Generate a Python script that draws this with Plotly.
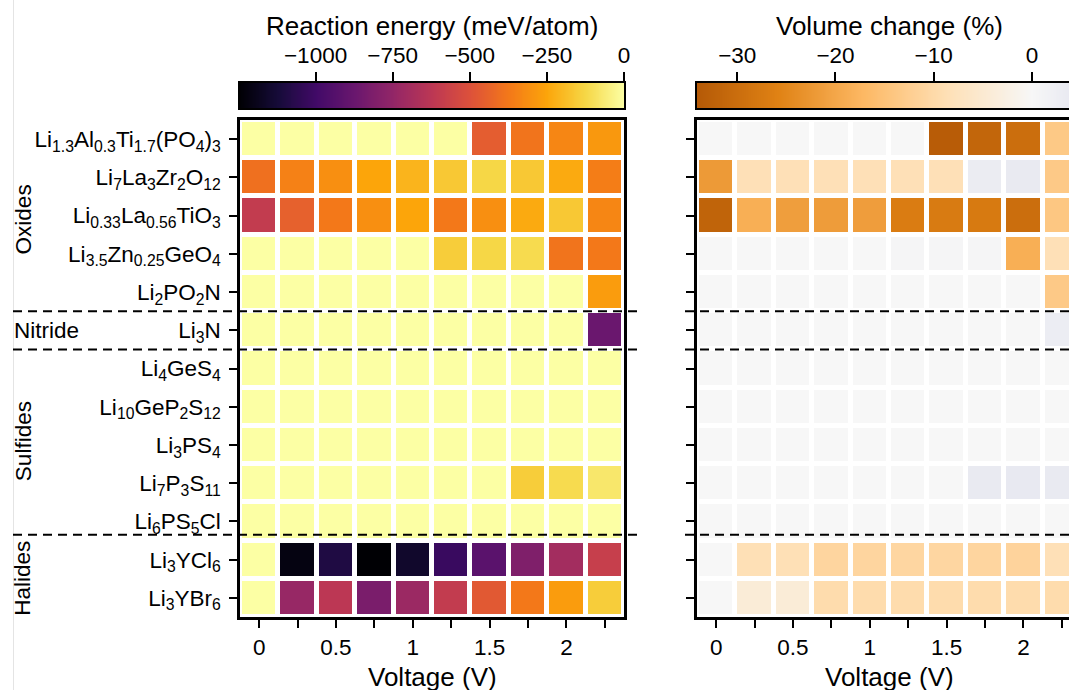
import numpy as np
import plotly.graph_objects as go

# ---------------- data ----------------
voltages = [0, 0.25, 0.5, 0.75, 1.0, 1.25, 1.5, 1.75, 2.0, 2.25]
voltage_labels = [0, 0.5, 1.0, 1.5, 2.0]

materials = [
    "Li<sub>1.3</sub>Al<sub>0.3</sub>Ti<sub>1.7</sub>(PO<sub>4</sub>)<sub>3</sub>",
    "Li<sub>7</sub>La<sub>3</sub>Zr<sub>2</sub>O<sub>12</sub>",
    "Li<sub>0.33</sub>La<sub>0.56</sub>TiO<sub>3</sub>",
    "Li<sub>3.5</sub>Zn<sub>0.25</sub>GeO<sub>4</sub>",
    "Li<sub>2</sub>PO<sub>2</sub>N",
    "Li<sub>3</sub>N",
    "Li<sub>4</sub>GeS<sub>4</sub>",
    "Li<sub>10</sub>GeP<sub>2</sub>S<sub>12</sub>",
    "Li<sub>3</sub>PS<sub>4</sub>",
    "Li<sub>7</sub>P<sub>3</sub>S<sub>11</sub>",
    "Li<sub>6</sub>PS<sub>5</sub>Cl",
    "Li<sub>3</sub>YCl<sub>6</sub>",
    "Li<sub>3</sub>YBr<sub>6</sub>",
]

# reaction energy (meV/atom), rows = materials, cols = voltages
e_LATP = [0, 0, 0, 0, 0, 0, -460, -386, -336, -286]
e_LLZO = [-398, -349, -311, -249, -212, -162, -125, -162, -237, -361]
e_LLTO = [-598, -448, -374, -311, -249, -374, -311, -237, -162, -336]
e_LZGO = [0, 0, 0, 0, 0, -150, -125, -112, -386, -374]
e_LiPON = [0, 0, 0, 0, 0, 0, 0, 0, 0, -274]
e_Li3N = [0, 0, 0, 0, 0, 0, 0, 0, 0, -871]
e_Li4GeS4 = [0, 0, 0, 0, 0, 0, 0, 0, 0, 0]
e_LGPS = [0, 0, 0, 0, 0, 0, 0, 0, 0, 0]
e_Li3PS4 = [0, 0, 0, 0, 0, 0, 0, 0, 0, 0]
e_LPS = [0, 0, 0, 0, 0, 0, 0, -150, -112, -75]
e_LPSCl = [0, 0, 0, 0, 0, 0, 0, 0, 0, 0]
e_LYC = [0, -1215, -1095, -1245, -1150, -1021, -921, -809, -697, -585]
e_LYB = [0, -735, -622, -822, -722, -598, -473, -374, -274, -150]

# volume change (%)
v_LATP = [0, 0, 0, 0, 0, 0, -33.5, -31.5, -29.8, -13.6]
v_LLZO = [-22, -8.5, -8.5, -8.5, -8.5, -8.5, -8.5, 3.4, 4.0, -13.5]
v_LLTO = [-32, -18.7, -21.3, -21.7, -21.5, -27, -27.3, -27.5, -29.8, -14]
v_LZGO = [0, 0, 0, 0, 0, 0.6, 0.6, 0.6, -18.7, -8.5]
v_LiPON = [0, 0, 0, 0, 0, 0, 0, 0, 0, -13.5]
v_Li3N = [0, 0, 0, 0, 0, 0, 0, 0, 0, 3]
v_Li4GeS4 = [0, 0, 0, 0, 0, 0, 0, 0, 0, 0]
v_LGPS = [0, 0, 0, 0, 0, 0, 0, 0, 0, 0]
v_Li3PS4 = [0, 0, 0, 0, 0, 0, 0, 0, 0, 0]
v_LPS = [0, 0, 0, 0, 0, 0, 0, 4, 4.2, 4]
v_LPSCl = [0, 0, 0, 0, 0, 0, 0, 0, 0, 0]
v_LYC = [0, -8.6, -8.6, -11, -11, -10.8, -10.8, -11, -11.3, -8.5]
v_LYB = [0, -4.2, -4.2, -9.5, -9.5, -9.5, -9.5, -9.5, -9.5, -9.5]

groups = ["Oxides", "Nitride", "Sulfides", "Halides"]
group_centers = [2.1, 5, 7.9, 11.5]
separators = [4.5, 5.5, 10.35]

energy_ticks = [-1000, -750, -500, -250, 0]
volume_ticks = [-30, -20, -10, 0]
energy_range = [-1245, 0]
volume_range = [-34.1, 5.0]
volume_norm = 43.0  # symmetric diverging norm half-width

energy = [e_LATP, e_LLZO, e_LLTO, e_LZGO, e_LiPON, e_Li3N, e_Li4GeS4, e_LGPS,
          e_Li3PS4, e_LPS, e_LPSCl, e_LYC, e_LYB]
volume = [v_LATP, v_LLZO, v_LLTO, v_LZGO, v_LiPON, v_Li3N, v_Li4GeS4, v_LGPS,
          v_Li3PS4, v_LPS, v_LPSCl, v_LYC, v_LYB]

# ---------------- styles ----------------
inferno = [[0.0, "#000004"], [0.1, "#160b39"], [0.2, "#420a68"], [0.3, "#6a176e"],
           [0.4, "#932667"], [0.5, "#bc3754"], [0.6, "#dd513a"], [0.7, "#f37819"],
           [0.8, "#fca50a"], [0.9, "#f6d746"], [1.0, "#fcffa4"]]
puor = [[0.0, "#7f3b08"], [0.1, "#b35806"], [0.2, "#e08214"], [0.3, "#fdb863"],
        [0.4, "#fee0b6"], [0.5, "#f7f7f7"], [0.6, "#d8daeb"], [0.7, "#b2abd2"],
        [0.8, "#8073ac"], [0.9, "#542788"], [1.0, "#2d004b"]]

W, H = 1069, 690
FONT = "Liberation Sans, Arial, sans-serif"
TICK = 22.5
TITLE = 26


def fx(p):
    return p / W


def fy(p):
    return 1 - p / H


L0, L1 = 240, 624          # left heatmap x pixels
R0, R1 = 697, 1081         # right heatmap x pixels (cut at figure edge)
T0, T1 = 120, 617          # heatmap y pixels
C0, C1 = 82.5, 108         # colorbar y pixels

xr = [-0.125, 2.375]
vis = (W - R0) / (R1 - R0)
xr_right = [xr[0], xr[0] + (xr[1] - xr[0]) * vis]
vr_right = [volume_range[0], volume_range[0] + (volume_range[1] - volume_range[0]) * vis]

fig = go.Figure()

fig.add_trace(go.Heatmap(z=energy, x=voltages, y=materials, colorscale=inferno,
                         zmin=energy_range[0], zmax=energy_range[1], xgap=5, ygap=5,
                         showscale=False, hoverinfo="skip", xaxis="x", yaxis="y"))
fig.add_trace(go.Heatmap(z=volume, x=voltages, y=materials, colorscale=puor,
                         zmin=-volume_norm, zmax=volume_norm, xgap=5, ygap=5,
                         showscale=False, hoverinfo="skip", xaxis="x2", yaxis="y2"))

# colour bars drawn as gradient strips on their own axes
eg = np.linspace(energy_range[0], energy_range[1], 400)
fig.add_trace(go.Heatmap(z=[eg], x=eg, y=[0], colorscale=inferno,
                         zmin=energy_range[0], zmax=energy_range[1],
                         showscale=False, hoverinfo="skip", xaxis="x3", yaxis="y3"))
vg = np.linspace(volume_range[0], volume_range[1], 400)
fig.add_trace(go.Heatmap(z=[vg], x=vg, y=[0], colorscale=puor,
                         zmin=-volume_norm, zmax=volume_norm,
                         showscale=False, hoverinfo="skip", xaxis="x4", yaxis="y4"))

tickfont = dict(family=FONT, size=TICK, color="black")
ax_common = dict(showline=True, linecolor="black", linewidth=2.5, ticks="outside",
                 ticklen=8, tickwidth=2, tickcolor="black", showgrid=False,
                 zeroline=False, tickfont=tickfont)
minor_v = dict(tickvals=voltages, ticks="outside", ticklen=8, tickwidth=2,
               tickcolor="black", showgrid=False)

fig.update_layout(
    width=W, height=H, paper_bgcolor="white", plot_bgcolor="white",
    margin=dict(l=0, r=0, t=0, b=0, autoexpand=False),
    showlegend=False,
    font=dict(family=FONT, size=TICK, color="black"),
    xaxis=dict(domain=[fx(L0), fx(L1)], anchor="y", range=xr, mirror=True,
               tickvals=voltage_labels, ticklabelstandoff=0, minor=minor_v,
               **ax_common),
    yaxis=dict(domain=[fy(T1), fy(T0)], anchor="x", range=[12.5, -0.5], mirror=True,
               type="category", ticklabelstandoff=4, **ax_common),
    xaxis2=dict(domain=[fx(R0), 1.0], anchor="y2", range=xr_right, mirror=True,
                tickvals=voltage_labels, ticklabelstandoff=0, minor=minor_v,
                **ax_common),
    yaxis2=dict(domain=[fy(T1), fy(T0)], anchor="x2", range=[12.5, -0.5], mirror=False,
                type="category", showticklabels=False, **ax_common),
    xaxis3=dict(domain=[fx(L0), fx(L1)], anchor="y3", range=energy_range, side="top",
                mirror=True, tickvals=energy_ticks, ticklabelstandoff=0,
                **{**ax_common, "linewidth": 2, "ticklen": 9, "tickwidth": 1.5}),
    yaxis3=dict(domain=[fy(C1), fy(C0)], anchor="x3", range=[-0.5, 0.5], mirror=True,
                showticklabels=False, showline=True, linecolor="black", linewidth=2,
                ticks="", showgrid=False, zeroline=False),
    xaxis4=dict(domain=[fx(R0), 1.0], anchor="y4", range=vr_right, side="top",
                mirror=True, tickvals=volume_ticks, ticklabelstandoff=0,
                **{**ax_common, "linewidth": 2, "ticklen": 9, "tickwidth": 1.5}),
    yaxis4=dict(domain=[fy(C1), fy(C0)], anchor="x4", range=[-0.5, 0.5], mirror=False,
                showticklabels=False, showline=True, linecolor="black", linewidth=2,
                ticks="", showgrid=False, zeroline=False),
)

titlefont = dict(family=FONT, size=TITLE, color="black")
annotations = [
    dict(text="Reaction energy (meV/atom)", x=fx((L0 + L1) / 2), y=fy(26), xref="paper",
         yref="paper", xanchor="center", yanchor="middle", showarrow=False, font=titlefont),
    dict(text="Volume change (%)", x=fx((R0 + R1) / 2), y=fy(26), xref="paper",
         yref="paper", xanchor="center", yanchor="middle", showarrow=False, font=titlefont),
    dict(text="Voltage (V)", x=fx((L0 + L1) / 2), y=fy(677), xref="paper",
         yref="paper", xanchor="center", yanchor="middle", showarrow=False, font=titlefont),
    dict(text="Voltage (V)", x=fx((R0 + R1) / 2), y=fy(677), xref="paper",
         yref="paper", xanchor="center", yanchor="middle", showarrow=False, font=titlefont),
]
for g, c in zip(groups, group_centers):
    if g == "Nitride":
        annotations.append(dict(text=g, x=fx(12), y=c, xref="paper", yref="y",
                                xanchor="left", yanchor="middle", showarrow=False,
                                font=dict(family=FONT, size=TICK, color="black")))
    else:
        annotations.append(dict(text=g, x=fx(23), y=c, xref="paper", yref="y",
                                xanchor="center", yanchor="middle", textangle=-90,
                                showarrow=False,
                                font=dict(family=FONT, size=TICK, color="black")))
fig.update_layout(annotations=annotations)

shapes = [dict(type="line", xref="paper", yref="paper", x0=fx(13.5), x1=fx(13.5),
               y0=0, y1=1, line=dict(color="#e4e4e4", width=1), layer="below")]
for s in separators:
    shapes.append(dict(type="line", xref="paper", yref="y", x0=fx(13), x1=fx(643),
                       y0=s, y1=s, line=dict(color="black", width=2, dash="9px,6px")))
    shapes.append(dict(type="line", xref="paper", yref="y2", x0=fx(685), x1=1.0,
                       y0=s, y1=s, line=dict(color="black", width=2, dash="9px,6px")))
fig.update_layout(shapes=shapes)

fig.write_html("out.html", config={"displayModeBar": False})
